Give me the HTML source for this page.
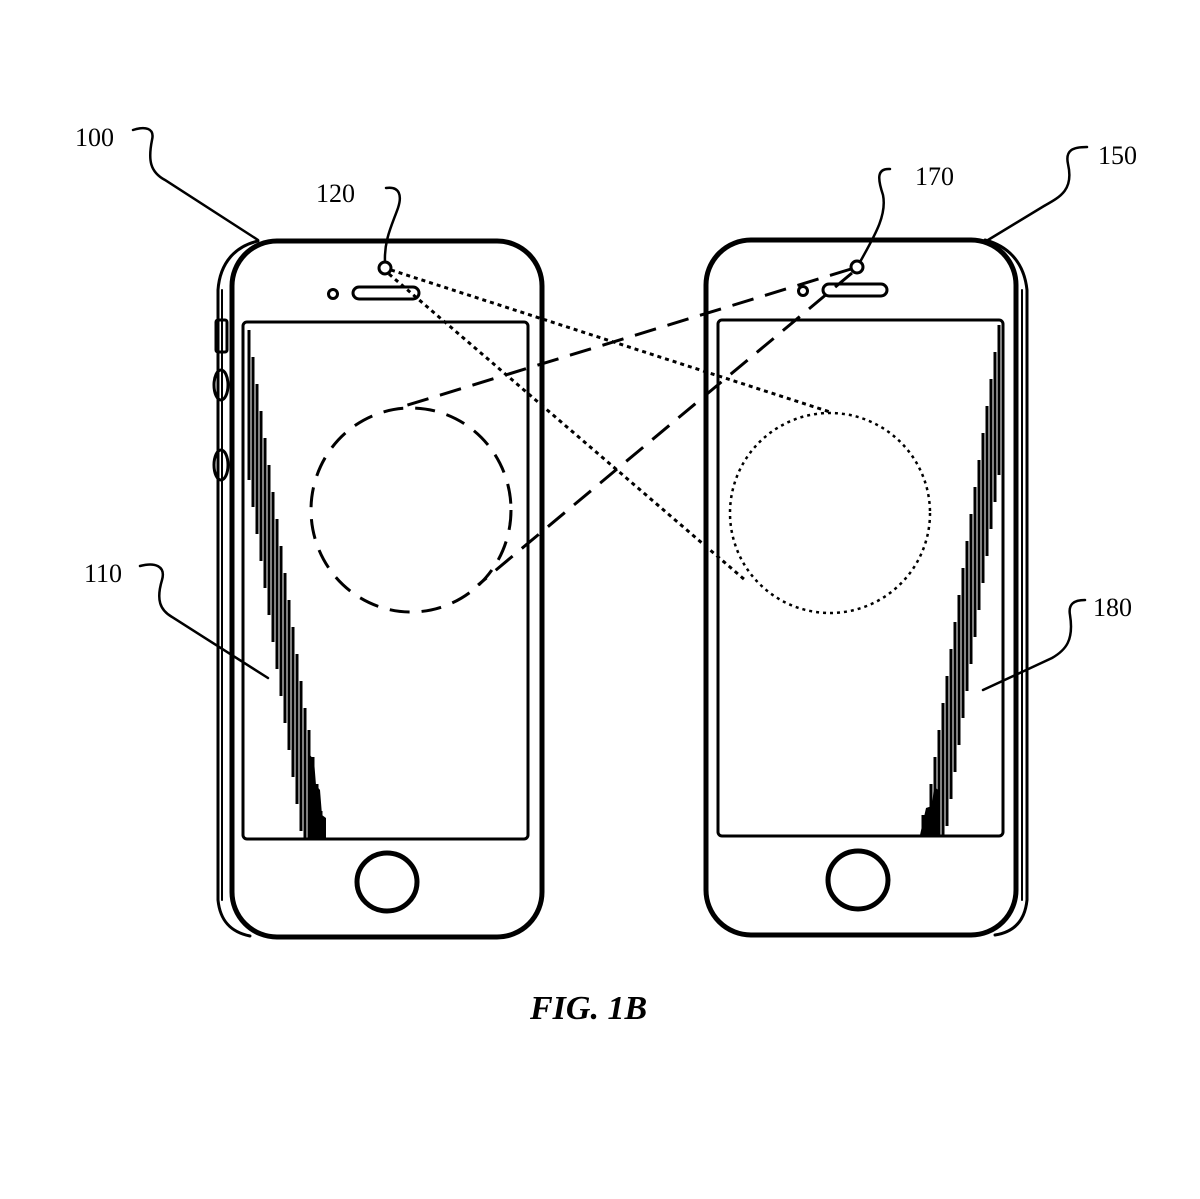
<!DOCTYPE html>
<html><head><meta charset="utf-8"><style>
html,body{margin:0;padding:0;background:#fff;}
svg{display:block}
text{font-family:"Liberation Serif",serif;fill:#000}
</style></head><body>
<svg width="1200" height="1199" viewBox="0 0 1200 1199" xmlns="http://www.w3.org/2000/svg">
<g fill="none" stroke="#000" stroke-linecap="round">
<!-- LEFT PHONE -->
<path d="M258,241 C236,246 220,262 218,290 L218,900 C220,920 230,932 250,936" stroke-width="3"/>
<line x1="222" y1="290" x2="222" y2="900" stroke-width="2"/>
<rect x="232" y="241" width="310" height="696" rx="45" stroke-width="5"/>
<rect x="216" y="320" width="11" height="32" rx="2" stroke-width="3"/>
<ellipse cx="221" cy="385" rx="7" ry="15" stroke-width="3"/>
<ellipse cx="221" cy="465" rx="7" ry="15" stroke-width="3"/>
<rect x="243" y="322" width="285" height="517" rx="4" stroke-width="3"/>
<rect x="353" y="287" width="66" height="12" rx="6" stroke-width="3"/>
<circle cx="333" cy="294" r="4.5" stroke-width="3"/>
<circle cx="385" cy="268" r="6" stroke-width="3"/>
<ellipse cx="387" cy="882" rx="30" ry="29" stroke-width="5"/>
<!-- RIGHT PHONE -->
<path d="M985,240 C1008,246 1024,262 1027,290 L1027,900 C1025,920 1015,932 995,935" stroke-width="3"/>
<line x1="1022" y1="290" x2="1022" y2="900" stroke-width="2"/>
<rect x="706" y="240" width="310" height="695" rx="45" stroke-width="5"/>
<rect x="718" y="320" width="285" height="516" rx="4" stroke-width="3"/>
<rect x="823" y="284" width="64" height="12" rx="6" stroke-width="3"/>
<circle cx="803" cy="291" r="4.5" stroke-width="3"/>
<circle cx="857" cy="267" r="6" stroke-width="3"/>
<ellipse cx="858" cy="880" rx="30" ry="29" stroke-width="5"/>
<!-- glare left -->
<g stroke-width="3" stroke-linecap="butt">
<line x1="249" y1="330" x2="249" y2="480"/><line x1="253" y1="357" x2="253" y2="507"/>
<line x1="257" y1="384" x2="257" y2="534"/><line x1="261" y1="411" x2="261" y2="561"/>
<line x1="265" y1="438" x2="265" y2="588"/><line x1="269" y1="465" x2="269" y2="615"/>
<line x1="273" y1="492" x2="273" y2="642"/><line x1="277" y1="519" x2="277" y2="669"/>
<line x1="281" y1="546" x2="281" y2="696"/><line x1="285" y1="573" x2="285" y2="723"/>
<line x1="289" y1="600" x2="289" y2="750"/><line x1="293" y1="627" x2="293" y2="777"/>
<line x1="297" y1="654" x2="297" y2="804"/><line x1="301" y1="681" x2="301" y2="831"/>
<line x1="305" y1="708" x2="305" y2="838"/><line x1="309" y1="730" x2="309" y2="838"/>
<line x1="313" y1="757" x2="313" y2="838"/><line x1="317" y1="784" x2="317" y2="838"/>
<line x1="321" y1="811" x2="321" y2="838"/>
</g>
<polygon points="308,838 326,838 326,818 322,815 320,790 316,785 314,760 310,755" fill="#000" stroke="none"/>
<!-- glare right -->
<g stroke-width="3" stroke-linecap="butt">
<line x1="999" y1="325" x2="999" y2="475"/><line x1="995" y1="352" x2="995" y2="502"/>
<line x1="991" y1="379" x2="991" y2="529"/><line x1="987" y1="406" x2="987" y2="556"/>
<line x1="983" y1="433" x2="983" y2="583"/><line x1="979" y1="460" x2="979" y2="610"/>
<line x1="975" y1="487" x2="975" y2="637"/><line x1="971" y1="514" x2="971" y2="664"/>
<line x1="967" y1="541" x2="967" y2="691"/><line x1="963" y1="568" x2="963" y2="718"/>
<line x1="959" y1="595" x2="959" y2="745"/><line x1="955" y1="622" x2="955" y2="772"/>
<line x1="951" y1="649" x2="951" y2="799"/><line x1="947" y1="676" x2="947" y2="826"/>
<line x1="943" y1="703" x2="943" y2="835"/><line x1="939" y1="730" x2="939" y2="835"/>
<line x1="935" y1="757" x2="935" y2="835"/><line x1="931" y1="784" x2="931" y2="835"/>
<line x1="927" y1="811" x2="927" y2="835"/><line x1="923" y1="815" x2="923" y2="835"/>
</g>
<polygon points="920,835 938,835 938,790 934,786 932,806 926,808" fill="#000" stroke="none"/>
<!-- circles -->
<ellipse cx="411" cy="510" rx="100" ry="102" stroke-width="3" stroke-dasharray="20,12" stroke-linecap="butt"/>
<circle cx="830" cy="513" r="100" stroke-width="2.5" stroke-dasharray="3,4" stroke-linecap="butt"/>
<!-- dashed lines from right camera -->
<g stroke-width="3" stroke-dasharray="22,12" stroke-linecap="butt">
<line x1="851" y1="269" x2="398" y2="408"/>
<line x1="852" y1="273" x2="478" y2="585"/>
</g>
<!-- dotted lines from left camera -->
<g stroke-width="3" stroke-dasharray="4,4" stroke-linecap="butt">
<line x1="391" y1="270" x2="830" y2="412"/>
<line x1="389" y1="274" x2="745" y2="580"/>
</g>
<!-- leaders -->
<g stroke-width="2.5">
<path d="M133,130 C145,126 155,128 152,140 C148,160 150,172 165,180 L258,240"/>
<path d="M386,188 C400,186 402,196 398,208 C392,225 384,240 385,262"/>
<path d="M890,169 C876,168 878,180 883,195 C887,215 875,235 860,262"/>
<path d="M1087,147 C1073,147 1065,150 1068,164 C1074,190 1060,197 1044,206 L988,240"/>
<path d="M140,566 C155,562 166,566 162,580 C156,600 160,610 172,617 L268,678"/>
<path d="M1085,600 C1074,600 1068,604 1070,615 C1074,640 1066,650 1052,658 L983,690"/>
</g>
</g>
<g font-size="26">
<text x="75" y="146">100</text>
<text x="316" y="202">120</text>
<text x="915" y="185">170</text>
<text x="1098" y="164">150</text>
<text x="84" y="582">110</text>
<text x="1093" y="616">180</text>
</g>
<text x="530" y="1019" font-size="34" font-style="italic" font-weight="bold">FIG. 1B</text>
</svg>
</body></html>
